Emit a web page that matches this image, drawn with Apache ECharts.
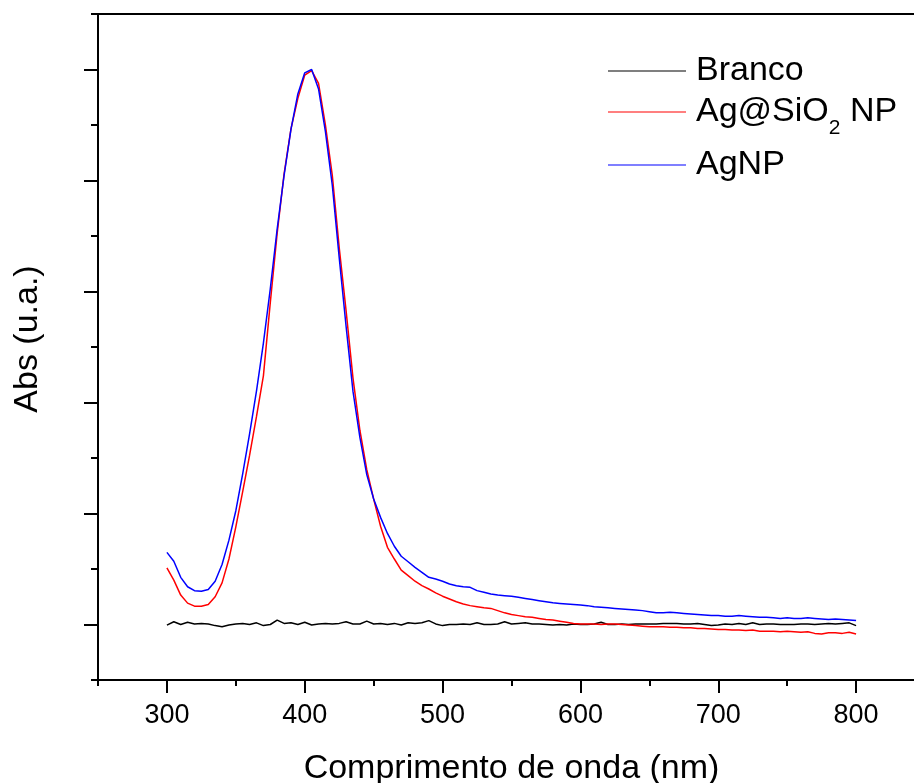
<!DOCTYPE html>
<html><head><meta charset="utf-8">
<script src="https://cdn.jsdelivr.net/npm/echarts@6/dist/echarts.min.js"></script>
<style>html,body{margin:0;padding:0;background:#fff}#c{width:914px;height:783px}</style>
</head><body><div id="c"></div><script>
const wavelength = [300,305,310,315,320,325,330,335,340,345,350,355,360,365,370,375,380,385,390,395,
400,405,410,415,420,425,430,435,440,445,450,455,460,465,470,475,480,485,490,495,
500,505,510,515,520,525,530,535,540,545,550,555,560,565,570,575,580,585,590,595,
600,605,610,615,620,625,630,635,640,645,650,655,660,665,670,675,680,685,690,695,
700,705,710,715,720,725,730,735,740,745,750,755,760,765,770,775,780,785,790,795,800];

const branco = [-0.001,0.005,0.000,0.004,0.001,0.002,0.001,-0.002,-0.004,-0.001,
0.001,0.002,0.000,0.003,-0.002,0.000,0.008,0.002,0.003,0.000,
0.004,-0.001,0.001,0.002,0.001,0.002,0.005,0.001,0.001,0.006,
0.001,0.002,0.000,0.002,-0.001,0.003,0.002,0.003,0.007,0.001,
-0.002,0.000,0.000,0.001,0.000,0.003,0.000,0.000,0.001,0.005,
0.001,0.002,0.003,0.001,0.001,0.000,-0.001,0.000,-0.001,0.001,
0.000,0.000,0.001,0.004,0.000,0.000,0.001,0.000,0.001,0.001,
0.001,0.001,0.002,0.002,0.002,0.001,0.001,0.002,0.000,-0.002,
-0.001,0.001,0.000,0.002,0.000,0.003,0.000,0.001,0.001,0.000,
0.000,0.000,0.001,0.001,0.000,0.001,0.002,0.001,0.002,0.003,-0.002];

const agSiO2 = [0.102,0.080,0.053,0.0385,0.033,0.033,0.036,0.050,0.075,0.118,
0.176,0.240,0.305,0.375,0.448,0.580,0.705,0.812,0.893,0.948,
0.990,0.998,0.975,0.900,0.809,0.679,0.565,0.444,0.350,0.279,
0.226,0.177,0.139,0.118,0.098,0.088,0.078,0.070,0.064,0.057,
0.051,0.046,0.041,0.037,0.034,0.032,0.030,0.029,0.025,0.021,
0.018,0.016,0.014,0.013,0.011,0.009,0.008,0.006,0.004,0.002,
0.001,0.001,0.001,0.000,0.001,0.001,0.000,-0.001,-0.002,-0.003,
-0.004,-0.004,-0.004,-0.005,-0.005,-0.006,-0.006,-0.007,-0.007,-0.008,
-0.009,-0.009,-0.010,-0.010,-0.011,-0.010,-0.012,-0.012,-0.012,-0.013,
-0.012,-0.013,-0.014,-0.013,-0.016,-0.017,-0.015,-0.015,-0.016,-0.014,-0.017];

const agNP = [0.130,0.114,0.085,0.068,0.061,0.060,0.063,0.078,0.108,0.152,
0.205,0.272,0.344,0.421,0.507,0.605,0.713,0.809,0.892,0.956,
0.994,1.000,0.965,0.888,0.791,0.661,0.537,0.420,0.337,0.270,
0.226,0.193,0.164,0.141,0.123,0.113,0.103,0.094,0.085,0.082,
0.078,0.073,0.070,0.068,0.067,0.061,0.058,0.055,0.053,0.052,
0.051,0.049,0.047,0.045,0.043,0.041,0.039,0.038,0.037,0.036,
0.035,0.034,0.032,0.031,0.030,0.029,0.028,0.027,0.026,0.025,
0.023,0.021,0.021,0.022,0.021,0.020,0.019,0.018,0.017,0.016,
0.016,0.015,0.015,0.016,0.015,0.014,0.013,0.013,0.012,0.011,
0.012,0.011,0.011,0.012,0.011,0.010,0.009,0.010,0.009,0.008,0.007];

const xMajorTicks = [300,400,500,600,700,800];
const xMinorTicks = [250,350,450,550,650,750,850];
const yMajorTicks = [0,0.2,0.4,0.6,0.8,1.0];
const yMinorTicks = [-0.1,0.1,0.3,0.5,0.7,0.9,1.1];
const seriesNames = ['Branco','Ag@SiO2 NP','AgNP'];
const seriesColors = ['#000000','#ff0000','#0000ff'];
const seriesValues = [branco, agSiO2, agNP];

const FONT = "'Liberation Sans', Arial, sans-serif";
const axisLineStyle = {color:'#000', width:2};

const chart = echarts.init(document.getElementById('c'), null, {renderer:'canvas'});

function mkLegend(name, top, formatter, lh){
  const l = {
    data:[name], left:608, top:top, orient:'vertical', padding:0,
    itemWidth:78, itemHeight:1, icon:'rect',
    textStyle:{fontSize:34, fontFamily:FONT, color:'#000', lineHeight:lh, padding:[0,0,0,5],
      rich:{
        m:{fontSize:34, fontFamily:FONT, color:'#000', lineHeight:lh, verticalAlign:'middle'},
        s:{fontSize:21, fontFamily:FONT, color:'#000', lineHeight:22, verticalAlign:'bottom'}
      }
    }
  };
  if (formatter) l.formatter = formatter;
  return l;
}

const option = {
  animation:false,
  backgroundColor:'#fff',
  grid:{left:98, top:14, width:827, bottom:103, containLabel:false, outerBoundsMode:'none'},
  legend:[
    mkLegend('Branco', 54, null, 34),
    mkLegend('Ag@SiO2 NP', 85.5, function(){ return '{m|Ag@SiO}{s|2}{m| NP}'; }, 53),
    mkLegend('AgNP', 148, null, 34)
  ],
  xAxis:[
    {type:'value', min:250, max:850, position:'bottom',
     axisLine:{show:true, onZero:false, lineStyle:axisLineStyle},
     axisTick:{show:true, customValues:xMajorTicks, length:13, lineStyle:{color:'#000', width:2}},
     axisLabel:{show:true, customValues:xMajorTicks, fontSize:27, fontFamily:FONT, color:'#000', margin:22},
     splitLine:{show:false},
     name:'Comprimento de onda (nm)', nameLocation:'middle', nameGap:72,
     nameTextStyle:{fontSize:34, fontFamily:FONT, color:'#000'}
    },
    {type:'value', min:250, max:850, position:'bottom',
     axisLine:{show:false, onZero:false},
     axisTick:{show:true, customValues:xMinorTicks, length:6, lineStyle:{color:'#000', width:2}},
     axisLabel:{show:false}, splitLine:{show:false}
    },
    {type:'value', min:250, max:850, position:'top',
     axisLine:{show:true, onZero:false, lineStyle:axisLineStyle},
     axisTick:{show:false}, axisLabel:{show:false}, splitLine:{show:false}
    }
  ],
  yAxis:[
    {type:'value', min:-0.1, max:1.1, position:'left',
     axisLine:{show:true, onZero:false, lineStyle:axisLineStyle},
     axisTick:{show:true, customValues:yMajorTicks, length:14, lineStyle:{color:'#000', width:2}},
     axisLabel:{show:false}, splitLine:{show:false},
     name:'Abs (u.a.)', nameLocation:'middle', nameGap:53,
     nameTextStyle:{fontSize:34, fontFamily:FONT, color:'#000', padding:[0,0,0,16]}
    },
    {type:'value', min:-0.1, max:1.1, position:'left',
     axisLine:{show:false, onZero:false},
     axisTick:{show:true, customValues:yMinorTicks, length:7, lineStyle:{color:'#000', width:2}},
     axisLabel:{show:false}, splitLine:{show:false}
    }
  ],
  series: seriesNames.map((n,k)=>({
    name:n, type:'line', xAxisIndex:0, yAxisIndex:0,
    showSymbol:false, symbol:'none',
    lineStyle:{color:seriesColors[k], width:1.5},
    itemStyle:{color:seriesColors[k]},
    data: wavelength.map((w,i)=>[w, seriesValues[k][i]])
  }))
};
chart.setOption(option);
</script></body></html>
